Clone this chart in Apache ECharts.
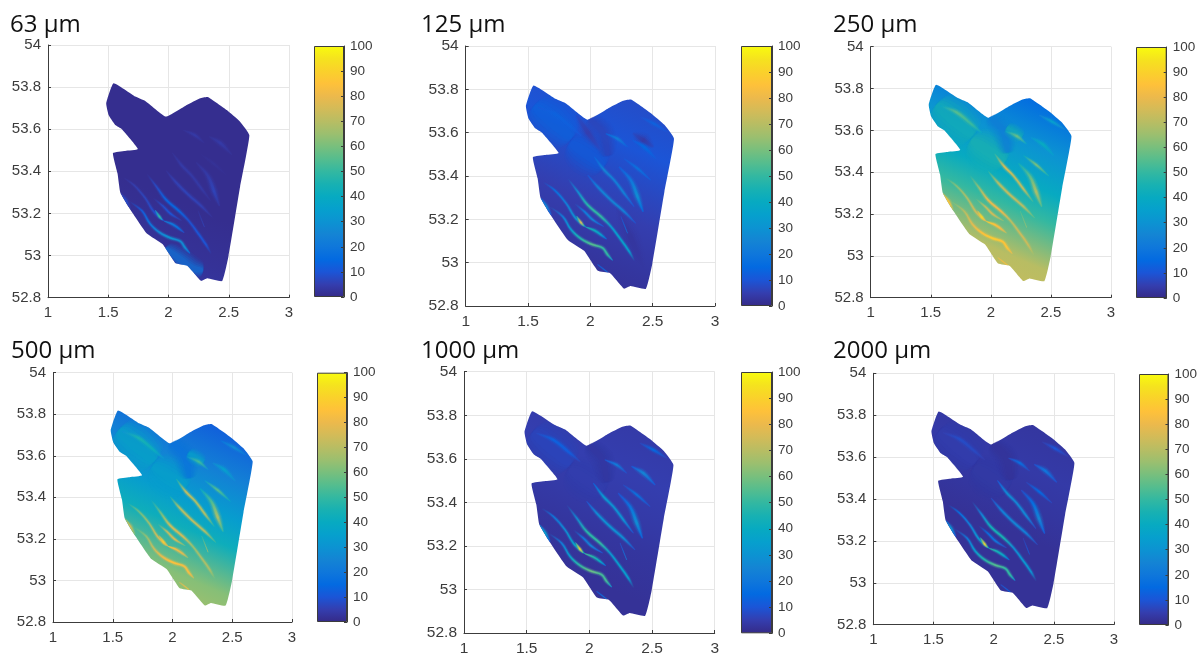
<!DOCTYPE html>
<html>
<head>
<meta charset="utf-8">
<style>html,body{margin:0;padding:0;background:#fff}#c{width:1200px;height:657px;filter:blur(0.35px)}</style>
<script src="https://cdn.jsdelivr.net/npm/echarts@6/dist/echarts.min.js"></script>
</head>
<body>
<div id="c"></div>
<script>
// ---------- data ----------
const panelNames = ['63 µm', '125 µm', '250 µm', '500 µm', '1000 µm', '2000 µm'];
const colorbarTicks = [0, 10, 20, 30, 40, 50, 60, 70, 80, 90, 100];
const parula = ['#352a87','#343eaf','#1b55d7','#036ae1','#0f77db','#1484d4','#0c93d2','#06a0cd','#07aac1','#18b1b2','#33b8a1','#55bd8e','#78bf7d','#9bbf6f','#b8bd63','#d3bb58','#ecb94c','#fec13a','#fad12b','#f5e31e','#f9fb0e'];

// outline of the mapped area (longitude, latitude)
const outline = [[1.544,53.818],[1.483,53.723],[1.503,53.667],[1.558,53.62],[1.613,53.6],[1.746,53.506],[1.64,53.497],[1.539,53.487],[1.577,53.39],[1.6,53.3],[1.668,53.232],[1.82,53.105],[1.95,53.055],[2.06,52.963],[2.157,52.952],[2.27,52.88],[2.323,52.892],[2.445,52.879],[2.497,52.995],[2.594,53.327],[2.671,53.572],[2.594,53.636],[2.483,53.691],[2.326,53.753],[2.262,53.747],[2.152,53.715],[1.978,53.66],[1.807,53.734],[1.724,53.755]];

// background value running from the north-east to the south-west
const fieldFrom = [2.6, 53.7];
const fieldTo = [2.0, 52.9];
const fieldStops = [0, 0.25, 0.45, 0.6, 0.85, 1];
const field63 = [1, 1, 1, 1, 2, 3];
const field125 = [8, 10, 7, 5, 3, 2];
const field250 = [15, 30, 40, 50, 70, 72];
const field500 = [12, 24, 34, 42, 62, 66];
const field1000 = [4, 5, 4, 3, 2, 2];
const field2000 = [3, 4, 3, 2, 2, 2];

// broad soft patches of the field
const patchLobe = [[1.56,53.72],[1.64,53.68],[1.74,53.63],[1.84,53.58]];
const patchCentre = [[1.85,53.55],[1.98,53.5],[2.1,53.45]];
const patchRidge = [[2.0,53.66],[2.1,53.6],[2.14,53.5]];
const patchGlow = [[2.14,53.61],[2.25,53.57]];
const patchSouth = [[1.98,53.03],[2.08,52.99],[2.2,52.94],[2.28,52.93]];
const patches = [patchLobe, patchCentre, patchRidge, patchGlow, patchSouth];
const patch63 = [null, null, null, null, 20];
const patch125 = [13, 12, 6, null, null];
const patch250 = [44, 46, 22, 44, null];
const patch500 = [38, 36, 18, 38, null];
const patch1000 = [7, 5, 3, null, null];
const patch2000 = [5, 4, 2, null, null];

// streak centre lines, and the share of the peak reached at each point
const s1 = [[1.62,53.373],[1.713,53.335],[1.806,53.274],[1.872,53.213],[1.926,53.182],[1.965,53.164]];
const s2 = [[1.673,53.259],[1.779,53.213],[1.846,53.152],[1.926,53.11],[2.019,53.083],[2.098,53.068],[2.138,53.037],[2.178,53.011]];
const s3 = [[1.819,53.389],[1.899,53.328],[1.979,53.266],[2.085,53.213],[2.165,53.167],[2.245,53.106],[2.311,53.052],[2.356,53.006]];
const s4 = [[1.965,53.164],[2.032,53.149],[2.085,53.129],[2.13,53.109]];
const s5 = [[1.872,53.274],[1.952,53.236],[2.019,53.198],[2.106,53.167]];
const s6 = [[2.032,53.488],[2.112,53.427],[2.191,53.381],[2.271,53.32],[2.351,53.259]];
const s7 = [[1.979,53.404],[2.059,53.35],[2.165,53.289],[2.271,53.236],[2.364,53.182]];
const s8 = [[2.231,53.442],[2.324,53.381],[2.378,53.305],[2.423,53.236]];
const s9 = [[2.271,53.48],[2.378,53.435],[2.484,53.381]];
const s10 = [[2.125,53.595],[2.218,53.572],[2.298,53.534]];
const s11 = [[2.338,53.565],[2.431,53.534],[2.524,53.48]];
const s12 = [[2.404,53.672],[2.511,53.641],[2.617,53.603]];
const s13 = [[1.601,53.297],[1.646,53.259],[1.686,53.22]];
const s14 = [[2.059,52.991],[2.138,52.956]];
const s15 = [[1.58,53.717],[1.713,53.687],[1.846,53.626],[1.926,53.587]];
const s16 = [[2.245,53.213],[2.298,53.136]];
const s17 = [[1.89,53.215],[1.925,53.185],[1.95,53.168]];
const t1 = [[2.345,53.597],[2.425,53.565],[2.505,53.535]];
const t2 = [[1.89,53.68],[1.98,53.6],[2.08,53.52]];
const t3 = [[2.21,53.26],[2.32,53.12],[2.43,52.97]];
const streaks = [t1,t2,t3,s1,s2,s3,s4,s5,s6,s7,s8,s9,s10,s11,s12,s13,s14,s15,s16,s17];
const shares = [[.3,1,.3],[.3,1,.3],[.3,1,.3],[0,.4,.6,.8,.95,.9],[0,.35,.6,.85,1,.9,.9,.5],[0,.5,.95,1,.6,.7,.65,0],[1,.9,.75,.3],[0,.8,1,.3],[.3,1,.9,.9,.2],[.2,.9,1,.9,.2],[.2,.6,1,.4],[.2,1,.3],[.3,1,.2],[.3,1,.3],[.2,1,.2],[.6,1,.3],[.5,.9],[.3,1,.8,.2],[.3,1],[.5,1,.6]];

const peak63 = [null,null,null,10,30,14,22,10,4,6,6,2,4,4,null,8,null,null,6,50];
const peak125 = [4,5,3,35,55,50,45,25,25,25,28,18,22,15,13,25,20,13,18,80];
const peak250 = [null,null,null,78,88,80,88,75,75,72,68,60,58,40,35,85,85,55,65,92];
const peak500 = [null,null,null,80,85,75,85,78,72,72,68,55,52,35,28,75,85,45,68,88];
const peak1000 = [null,null,null,45,58,50,52,25,32,30,28,18,22,25,15,35,22,13,22,88];
const peak2000 = [null,null,null,38,55,45,48,20,28,25,25,15,17,20,10,30,15,8,12,90];

const fields = [field63, field125, field250, field500, field1000, field2000];
const patchValues = [patch63, patch125, patch250, patch500, patch1000, patch2000];
const peaks = [peak63, peak125, peak250, peak500, peak1000, peak2000];

// ---------- layout and style ----------
const patchHalfWidths = [24, 22, 12, 11, 12];
const patchLayers = [[1,.08],[.85,.12],[.7,.16],[.55,.2],[.4,.25],[.25,.3]];
const streakHalfWidths = [3.5,3.5,4.5,1.1,1.2,1.2,1.2,1,1.2,1.2,1.9,1.2,1.3,1.7,1.4,1.5,1.3,1.5,1,1];
const streakLayers = [[2.2,.14],[1.6,.24],[1.05,.45],[.6,1]];
const plots = [
  {x:48,y:45,w:241,h:252.7,bx:314,by:46,bw:30,bh:251,tx:10,ty:13,fs:15},
  {x:465.7,y:46,w:249.3,h:260,bx:741,by:46,bw:31,bh:260,tx:421,ty:13,fs:15.5},
  {x:870.7,y:46.7,w:240.3,h:251,bx:1136,by:47,bw:30.7,bh:251,tx:833,ty:13,fs:15},
  {x:53,y:372.7,w:239,h:249.3,bx:317,by:372.7,bw:30,bh:249.3,tx:11,ty:339,fs:15},
  {x:464,y:371.7,w:250.7,h:261.6,bx:741,by:372,bw:31,bh:261.3,tx:421,ty:339,fs:15.5},
  {x:873.3,y:373.3,w:240.7,h:251.4,bx:1139,by:374,bw:31,bh:251,tx:833,ty:339,fs:15}
];
const ink = '#3c3c3c';
const labelFont = 'Liberation Sans';

function valueColor(v) {
  return echarts.color.lerp(Math.max(0, Math.min(100, v)) / 100, parula);
}
function fieldAt(values, t) {
  t = Math.max(0, Math.min(1, t));
  for (let i = 1; i < fieldStops.length; i++) {
    if (t <= fieldStops[i]) {
      const f = (t - fieldStops[i - 1]) / (fieldStops[i] - fieldStops[i - 1]);
      return values[i - 1] + (values[i] - values[i - 1]) * f;
    }
  }
  return values[values.length - 1];
}
// one soft ribbon: stacked translucent polygons around a centre line
function ribbon(spine, share, halfWidth, layerList, fill, endWidth) {
  const n = spine.length;
  return layerList.map(layer => {
    const left = [], right = [];
    spine.forEach((p, i) => {
      const q0 = spine[Math.max(0, i - 1)], q1 = spine[Math.min(n - 1, i + 1)];
      let tx = q1[0] - q0[0], ty = q1[1] - q0[1];
      const l = Math.hypot(tx, ty) || 1;
      tx /= l; ty /= l;
      const end = (i === 0 || i === n - 1) ? endWidth : (0.6 + 0.4 * share[i]);
      const h = halfWidth * layer[0] * end;
      left.push([p[0] - ty * h, p[1] + tx * h]);
      right.unshift([p[0] + ty * h, p[1] - tx * h]);
    });
    return {
      type: 'polygon',
      shape: { points: left.concat(right), smooth: 0.35 },
      style: { fill: fill, opacity: layer[1] }
    };
  });
}

function makeRender(panel) {
  return function (params, api) {
    const kind = api.value(0), idx = api.value(1);
    const toPx = p => api.coord(p);
    const clip = { type: 'polygon', shape: { points: outline.map(toPx) } };
    const a = toPx(fieldFrom), b = toPx(fieldTo);
    const dx = b[0] - a[0], dy = b[1] - a[1], len2 = dx * dx + dy * dy;
    const tOf = p => ((p[0] - a[0]) * dx + (p[1] - a[1]) * dy) / len2;

    if (kind === 0) {
      const stops = fieldStops.map((o, i) => ({ offset: o, color: valueColor(fields[panel][i]) }));
      return {
        type: 'polygon',
        shape: { points: outline.map(toPx), smooth: 0.12 },
        style: { fill: new echarts.graphic.LinearGradient(a[0], a[1], b[0], b[1], stops, true) }
      };
    }
    if (kind === 1) {
      const v = patchValues[panel][idx];
      if (v == null) return;
      const spine = patches[idx].map(toPx);
      return {
        type: 'group', clipPath: clip,
        children: ribbon(spine, spine.map(() => 1), patchHalfWidths[idx], patchLayers, valueColor(v), 0.6)
      };
    }
    const peak = peaks[panel][idx];
    if (peak == null) return;
    const spine = streaks[idx].map(toPx);
    const share = shares[idx];
    const n = spine.length;
    const first = spine[0], last = spine[n - 1];
    const ex = last[0] - first[0], ey = last[1] - first[1], e2 = ex * ex + ey * ey;
    const stops = spine.map((p, i) => {
      const base = fieldAt(fields[panel], tOf(p));
      return {
        offset: Math.max(0, Math.min(1, ((p[0] - first[0]) * ex + (p[1] - first[1]) * ey) / e2)),
        color: valueColor(base + (peak - base) * share[i])
      };
    }).sort((u, v) => u.offset - v.offset);
    const fill = new echarts.graphic.LinearGradient(first[0], first[1], last[0], last[1], stops, true);
    return { type: 'group', clipPath: clip, children: ribbon(spine, share, streakHalfWidths[idx], streakLayers, fill, 0.25) };
  };
}

const grids = [], xAxes = [], yAxes = [], series = [], titles = [];
plots.forEach((pl, i) => {
  titles.push({
    text: panelNames[i], left: pl.tx, top: pl.ty,
    textStyle: { fontFamily: 'Open Sans', fontSize: 24, fontWeight: 'normal', color: '#111' },
    padding: 0
  });
  // map
  grids.push({ left: pl.x, top: pl.y, width: pl.w, height: pl.h, containLabel: false });
  const axisCommon = {
    axisLine: { show: true, onZero: false, lineStyle: { color: ink, width: 1 } },
    axisTick: { show: true, inside: true, length: 3, lineStyle: { color: ink } },
    splitLine: { show: true, lineStyle: { color: '#e6e6e6', width: 1 } },
    axisLabel: { color: '#3c3c3c', fontSize: pl.fs, fontFamily: labelFont, hideOverlap: false, showMinLabel: true, showMaxLabel: true }
  };
  xAxes.push(Object.assign({}, axisCommon, {
    type: 'value', gridIndex: 2 * i, min: 1, max: 3, interval: 0.5,
    axisLabel: Object.assign({}, axisCommon.axisLabel, { margin: 8 })
  }));
  yAxes.push(Object.assign({}, axisCommon, {
    type: 'value', gridIndex: 2 * i, min: 52.8, max: 54, interval: 0.2,
    axisLabel: Object.assign({}, axisCommon.axisLabel, { margin: 7 })
  }));
  const items = [[0, 0]];
  patches.forEach((_, k) => items.push([1, k]));
  streaks.forEach((_, k) => items.push([2, k]));
  series.push({
    type: 'custom', xAxisIndex: 2 * i, yAxisIndex: 2 * i, coordinateSystem: 'cartesian2d',
    clip: false, silent: true, animation: false, renderItem: makeRender(i), data: items, z: 3,
    encode: { x: [], y: [] }
  });
  // colour bar
  grids.push({ left: pl.bx, top: pl.by, width: pl.bw, height: pl.bh });
  xAxes.push({ type: 'category', gridIndex: 2 * i + 1, data: [panelNames[i]], show: false });
  yAxes.push({
    type: 'value', gridIndex: 2 * i + 1, position: 'right', min: colorbarTicks[0], max: colorbarTicks[colorbarTicks.length - 1], interval: 10,
    axisLine: { show: true, lineStyle: { color: ink } },
    axisTick: { show: true, inside: true, length: 3, lineStyle: { color: ink } },
    splitLine: { show: false },
    axisLabel: { color: '#3c3c3c', fontSize: 13.5, fontFamily: labelFont, margin: 6, showMinLabel: true, showMaxLabel: true },
    z: 5
  });
  series.push({
    type: 'bar', xAxisIndex: 2 * i + 1, yAxisIndex: 2 * i + 1, barWidth: '100%', silent: true, animation: false,
    data: [colorbarTicks[colorbarTicks.length - 1]],
    itemStyle: {
      borderColor: ink, borderWidth: 1,
      color: new echarts.graphic.LinearGradient(0, 1, 0, 0, parula.map((c, k) => ({ offset: k / (parula.length - 1), color: c })))
    }
  });
});

const chart = echarts.init(document.getElementById('c'), null, { renderer: 'canvas' });
chart.setOption({
  animation: false, backgroundColor: '#fff',
  title: titles, grid: grids, xAxis: xAxes, yAxis: yAxes, series: series,
  tooltip: { show: false }
});
</script>
</body>
</html>
